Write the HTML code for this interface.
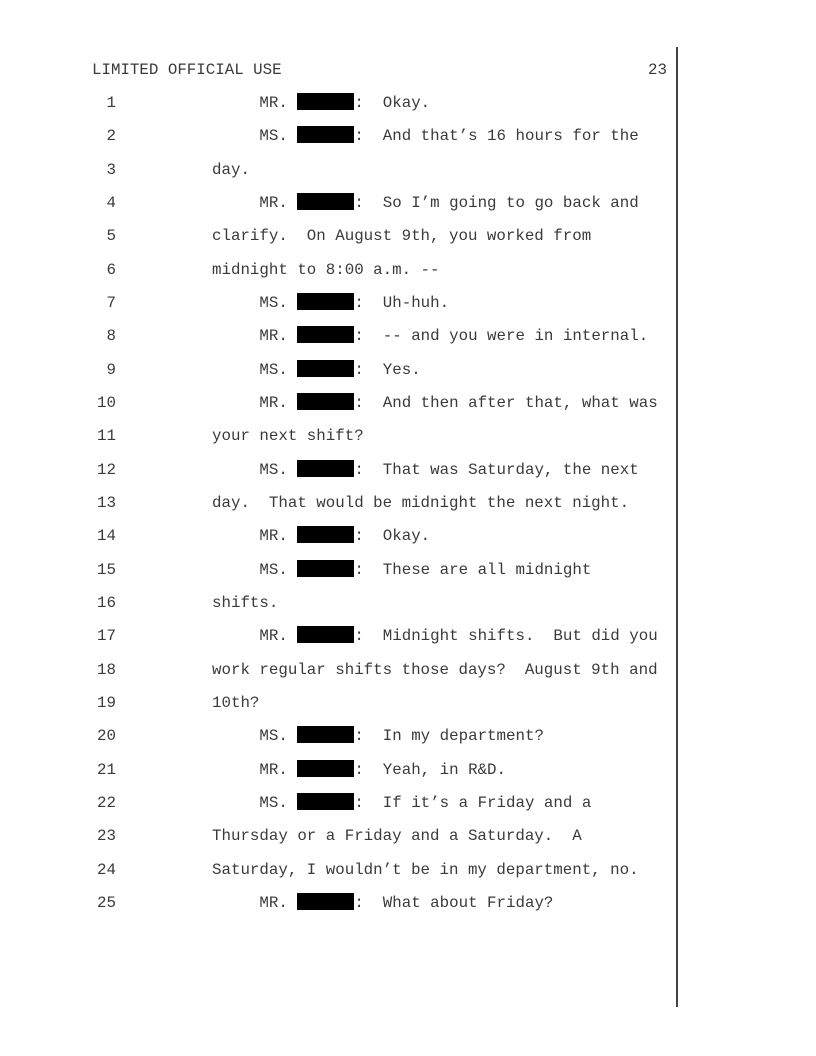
<!DOCTYPE html>
<html><head><meta charset="utf-8"><style>
body{margin:0;width:816px;height:1056px;background:#fff;position:relative;overflow:hidden;font-family:"Liberation Mono","Courier New",monospace;font-size:15.8px;color:#3a3a3a}
.l{position:absolute;white-space:pre;line-height:20px;height:20px}
.n{left:60px;width:56px;text-align:right}
.t{left:212px}
.r{display:inline-block;width:57px;height:17px;background:#000;vertical-align:-3px}
.vl{position:absolute;left:676px;top:47px;width:1.5px;height:960px;background:#444}
</style></head><body>
<div class="vl"></div>
<div class="l" style="left:92px;top:60px">LIMITED OFFICIAL USE</div>
<div class="l" style="left:648px;top:60px">23</div>

<div class="l n" style="top:93px">1</div><div class="l t" style="top:93px">     MR. <span class="r"></span>:  Okay.</div>
<div class="l n" style="top:126px">2</div><div class="l t" style="top:126px">     MS. <span class="r"></span>:  And that’s 16 hours for the</div>
<div class="l n" style="top:160px">3</div><div class="l t" style="top:160px">day.</div>
<div class="l n" style="top:193px">4</div><div class="l t" style="top:193px">     MR. <span class="r"></span>:  So I’m going to go back and</div>
<div class="l n" style="top:226px">5</div><div class="l t" style="top:226px">clarify.  On August 9th, you worked from</div>
<div class="l n" style="top:260px">6</div><div class="l t" style="top:260px">midnight to 8:00 a.m. --</div>
<div class="l n" style="top:293px">7</div><div class="l t" style="top:293px">     MS. <span class="r"></span>:  Uh-huh.</div>
<div class="l n" style="top:326px">8</div><div class="l t" style="top:326px">     MR. <span class="r"></span>:  -- and you were in internal.</div>
<div class="l n" style="top:360px">9</div><div class="l t" style="top:360px">     MS. <span class="r"></span>:  Yes.</div>
<div class="l n" style="top:393px">10</div><div class="l t" style="top:393px">     MR. <span class="r"></span>:  And then after that, what was</div>
<div class="l n" style="top:426px">11</div><div class="l t" style="top:426px">your next shift?</div>
<div class="l n" style="top:460px">12</div><div class="l t" style="top:460px">     MS. <span class="r"></span>:  That was Saturday, the next</div>
<div class="l n" style="top:493px">13</div><div class="l t" style="top:493px">day.  That would be midnight the next night.</div>
<div class="l n" style="top:526px">14</div><div class="l t" style="top:526px">     MR. <span class="r"></span>:  Okay.</div>
<div class="l n" style="top:560px">15</div><div class="l t" style="top:560px">     MS. <span class="r"></span>:  These are all midnight</div>
<div class="l n" style="top:593px">16</div><div class="l t" style="top:593px">shifts.</div>
<div class="l n" style="top:626px">17</div><div class="l t" style="top:626px">     MR. <span class="r"></span>:  Midnight shifts.  But did you</div>
<div class="l n" style="top:660px">18</div><div class="l t" style="top:660px">work regular shifts those days?  August 9th and</div>
<div class="l n" style="top:693px">19</div><div class="l t" style="top:693px">10th?</div>
<div class="l n" style="top:726px">20</div><div class="l t" style="top:726px">     MS. <span class="r"></span>:  In my department?</div>
<div class="l n" style="top:760px">21</div><div class="l t" style="top:760px">     MR. <span class="r"></span>:  Yeah, in R&amp;D.</div>
<div class="l n" style="top:793px">22</div><div class="l t" style="top:793px">     MS. <span class="r"></span>:  If it’s a Friday and a</div>
<div class="l n" style="top:826px">23</div><div class="l t" style="top:826px">Thursday or a Friday and a Saturday.  A</div>
<div class="l n" style="top:860px">24</div><div class="l t" style="top:860px">Saturday, I wouldn’t be in my department, no.</div>
<div class="l n" style="top:893px">25</div><div class="l t" style="top:893px">     MR. <span class="r"></span>:  What about Friday?</div>
</body></html>
